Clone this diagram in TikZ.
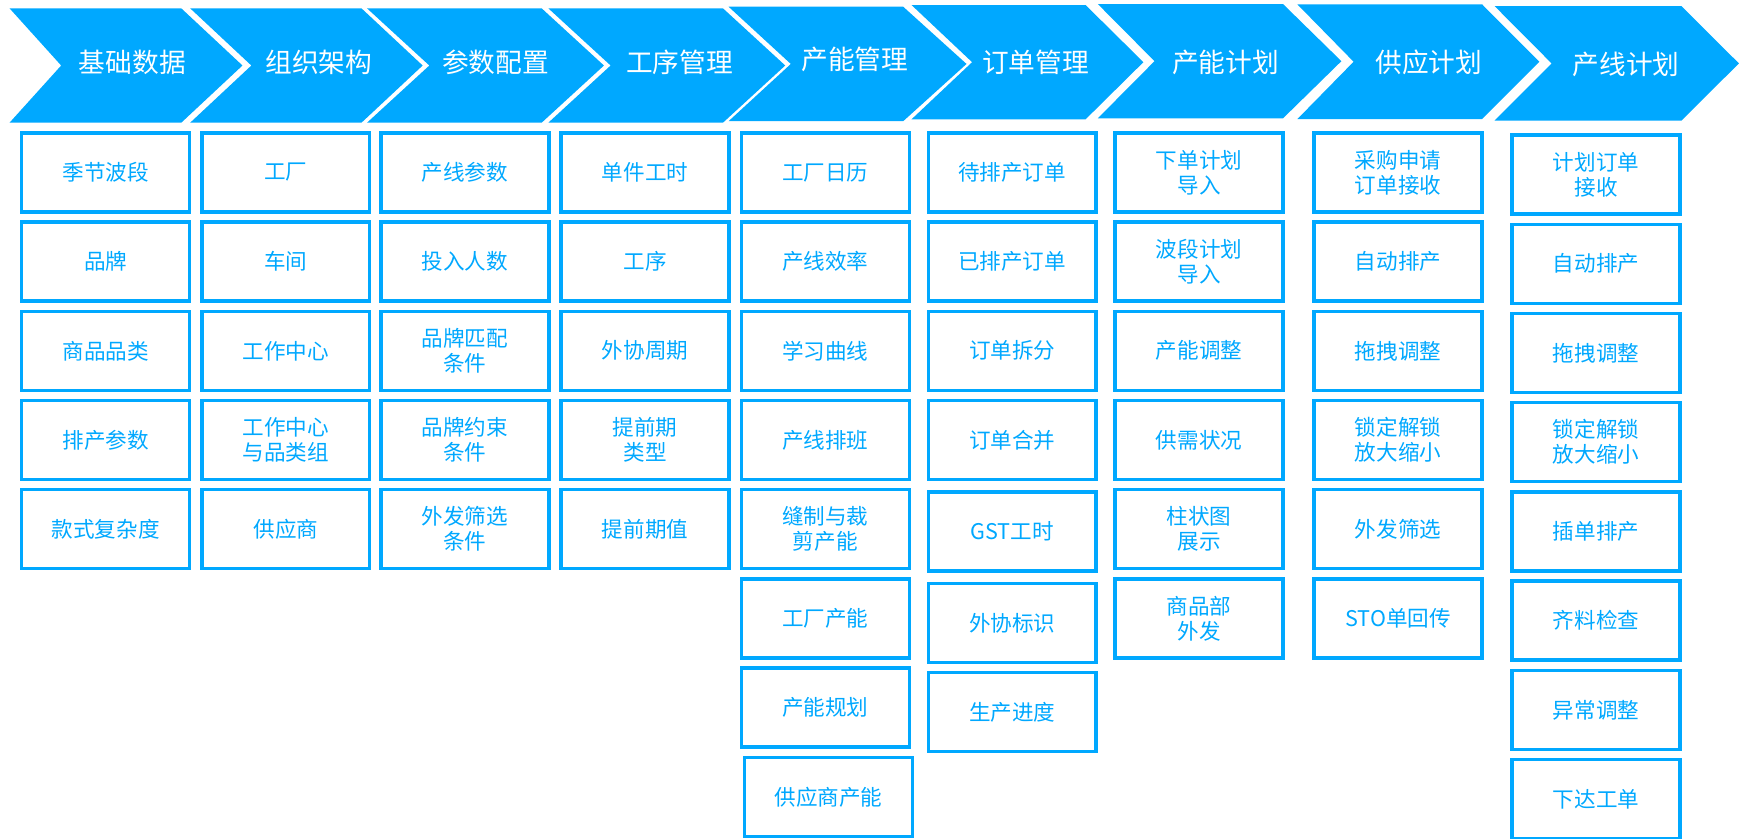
\documentclass[tikz,border=0pt]{standalone}
\usepackage{fontspec}
\setmainfont{Noto Sans CJK SC}
\usepackage{tikz}
\definecolor{skyblue}{RGB}{0,168,255}
\tikzstyle{head} = [fill=skyblue]
\tikzstyle{headtext} = [text=white, font=\fontsize{24pt}{28pt}\selectfont]
\tikzstyle{item} = [rectangle, minimum width=151pt, minimum height=71pt, text centered, align=center, draw=skyblue, line width=3pt, text=skyblue, font=\fontsize{19.4pt}{22.5pt}\selectfont]

\begin{document}
\begin{tikzpicture}[x=1pt, y=-1pt, node distance=80.2pt]
\useasboundingbox (0,0) rectangle (1568,754.3);

% chevrons along the top
\fill [head] (8.6,7.5) -- (163,7.5) -- (218,58.9) -- (163,110.3) -- (8.6,110.3) -- (55,58.9) -- cycle;
\fill [head] (171,7.5) -- (325,7.5) -- (380,58.9) -- (325,110.3) -- (171,110.3) -- (226,58.9) -- cycle;
\fill [head] (330,7.5) -- (487,7.5) -- (543,58.9) -- (487,110.3) -- (330,110.3) -- (386,58.9) -- cycle;
\fill [head] (493,7.5) -- (650,7.5) -- (706,58.9) -- (650,110.3) -- (493,110.3) -- (549,58.9) -- cycle;
\fill [head] (655,6) -- (812,6) -- (869,57.5) -- (812,109) -- (655,109) -- (711,57.5) -- cycle;
\fill [head] (819.5,4.5) -- (976,4.5) -- (1028,55.9) -- (976,107.3) -- (819.5,107.3) -- (874,55.9) -- cycle;
\fill [head] (987,3.6) -- (1153.5,3.6) -- (1206,55) -- (1153.5,106.4) -- (987,106.4) -- (1038,55) -- cycle;
\fill [head] (1166.5,4) -- (1332.6,4) -- (1384,55.5) -- (1332.6,107) -- (1166.5,107) -- (1217,55.5) -- cycle;
\fill [head] (1343.7,5.4) -- (1511.7,5.4) -- (1563.4,57) -- (1511.7,108.5) -- (1343.7,108.5) -- (1395,57) -- cycle;

\node (hbase) [headtext] at (119,56) {基础数据};
\node (horg) [headtext] at (286.8,56) {组织架构};
\node (hpara) [headtext] at (445.6,56) {参数配置};
\node (hproc) [headtext] at (611,56) {工序管理};
\node (hcap) [headtext] at (768.6,53) {产能管理};
\node (horder) [headtext] at (931,56) {订单管理};
\node (hcplan) [headtext] at (1101.8,56) {产能计划};
\node (hsupply) [headtext] at (1284.6,56) {供应计划};
\node (hline) [headtext] at (1461.9,58) {产线计划};

% 基础数据
\node (base1) [item] at (95,155) {季节波段};
\node (base2) [item, below of=base1] {品牌};
\node (base3) [item, below of=base2] {商品品类};
\node (base4) [item, below of=base3] {排产参数};
\node (base5) [item, below of=base4] {款式复杂度};

% 组织架构
\node (org1) [item] at (257,155) {工厂};
\node (org2) [item, below of=org1] {车间};
\node (org3) [item, below of=org2] {工作中心};
\node (org4) [item, below of=org3] {工作中心\\与品类组};
\node (org5) [item, below of=org4] {供应商};

% 参数配置
\node (para1) [item] at (418,155) {产线参数};
\node (para2) [item, below of=para1] {投入人数};
\node (para3) [item, below of=para2] {品牌匹配\\条件};
\node (para4) [item, below of=para3] {品牌约束\\条件};
\node (para5) [item, below of=para4] {外发筛选\\条件};

% 工序管理
\node (proc1) [item] at (580,155) {单件工时};
\node (proc2) [item, below of=proc1] {工序};
\node (proc3) [item, below of=proc2] {外协周期};
\node (proc4) [item, below of=proc3] {提前期\\类型};
\node (proc5) [item, below of=proc4] {提前期值};

% 产能管理
\node (cap1) [item] at (742,155) {工厂日历};
\node (cap2) [item, below of=cap1] {产线效率};
\node (cap3) [item, below of=cap2] {学习曲线};
\node (cap4) [item, below of=cap3] {产线排班};
\node (cap5) [item, below of=cap4] {缝制与裁\\剪产能};
\node (cap6) [item, below of=cap5] {工厂产能};
\node (cap7) [item, below of=cap6] {产能规划};
\node (cap8) [item, below of=cap7, xshift=3pt] {供应商产能};

% 订单管理
\node (order1) [item] at (910,155) {待排产订单};
\node (order2) [item, below of=order1] {已排产订单};
\node (order3) [item, below of=order2] {订单拆分};
\node (order4) [item, below of=order3] {订单合并};
\node (order5) [item, below of=order4, yshift=-2pt] {GST工时};
\node (order6) [item, below of=order5, yshift=-2pt] {外协标识};
\node (order7) [item, below of=order6] {生产进度};

% 产能计划
\node (cplan1) [item] at (1078,155) {下单计划\\导入};
\node (cplan2) [item, below of=cplan1] {波段计划\\导入};
\node (cplan3) [item, below of=cplan2] {产能调整};
\node (cplan4) [item, below of=cplan3] {供需状况};
\node (cplan5) [item, below of=cplan4] {柱状图\\展示};
\node (cplan6) [item, below of=cplan5] {商品部\\外发};

% 供应计划
\node (supply1) [item] at (1257,155) {采购申请\\订单接收};
\node (supply2) [item, below of=supply1] {自动排产};
\node (supply3) [item, below of=supply2] {拖拽调整};
\node (supply4) [item, below of=supply3] {锁定解锁\\放大缩小};
\node (supply5) [item, below of=supply4] {外发筛选};
\node (supply6) [item, below of=supply5] {STO单回传};

% 产线计划
\node (line1) [item] at (1435,157) {计划订单\\接收};
\node (line2) [item, below of=line1] {自动排产};
\node (line3) [item, below of=line2] {拖拽调整};
\node (line4) [item, below of=line3] {锁定解锁\\放大缩小};
\node (line5) [item, below of=line4] {插单排产};
\node (line6) [item, below of=line5] {齐料检查};
\node (line7) [item, below of=line6] {异常调整};
\node (line8) [item, below of=line7] {下达工单};
\end{tikzpicture}
\end{document}
